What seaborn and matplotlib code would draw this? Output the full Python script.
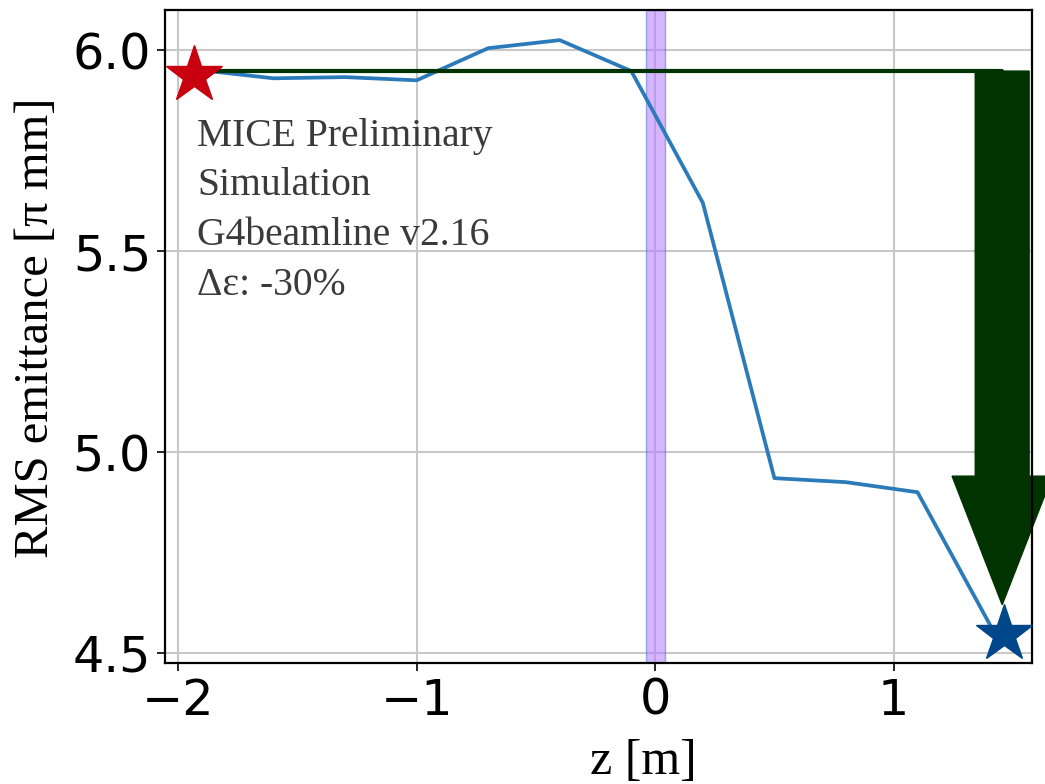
import matplotlib
matplotlib.use("Agg")
import matplotlib.pyplot as plt
import seaborn as sns
import pandas as pd

# Simulated RMS emittance along the beamline
z_m = [-1.9, -1.6, -1.3, -1.0, -0.7, -0.4, -0.1, 0.2, 0.5, 0.8, 1.1, 1.45]
emittance = [5.95, 5.93, 5.933, 5.925, 6.005, 6.025, 5.948, 5.62, 4.935, 4.925, 4.90, 4.52]

# Upstream / downstream reference points
start_z, start_eps = -1.935, 5.938
end_z, end_eps = 1.461, 4.546
ref_eps = 5.948           # upstream emittance level
arrow_z = 1.455
arrow_tip = 4.62
absorber = (-0.04, 0.04)  # absorber position band

annotation_lines = ["MICE Preliminary", "Simulation", "G4beamline v2.16", "Δε: -30%"]

sns.set_theme(style="whitegrid")
plt.rcParams.update({
    "font.family": ["DejaVu Sans"],
    "axes.edgecolor": "black",
    "axes.labelcolor": "black",
    "text.color": "black",
    "axes.linewidth": 1.6,
    "grid.color": "#c8c8c8",
    "grid.linewidth": 1.5,
    "xtick.bottom": True,
    "ytick.left": True,
    "xtick.major.size": 6,
    "ytick.major.size": 6,
    "xtick.major.width": 1.2,
    "ytick.major.width": 1.2,
    "xtick.color": "black",
    "ytick.color": "black",
})

fig = plt.figure(figsize=(10.45, 7.84), dpi=100)
ax = fig.add_axes([165 / 1045, (784 - 663) / 784, 867 / 1045, 653 / 784])

df = pd.DataFrame({"z": z_m, "eps": emittance})
sns.lineplot(data=df, x="z", y="eps", ax=ax, color="#2b7bba", linewidth=2.7, zorder=3)

ax.axvspan(*absorber, facecolor="#b57bff", alpha=0.55, edgecolor="#4a6fe0",
           linewidth=1.0, zorder=2)

ax.plot([start_z, arrow_z], [ref_eps, ref_eps], color="#003300", linewidth=3.0, zorder=4)

ax.arrow(arrow_z, ref_eps, 0, arrow_tip - ref_eps, width=0.226, head_width=0.42,
         head_length=0.32, length_includes_head=True, color="#003300",
         clip_on=False, zorder=1.5)

ax.plot([start_z], [start_eps], marker="*", markersize=43, color="#c8000f",
        linestyle="none", clip_on=False, zorder=6)
ax.plot([end_z], [end_eps], marker="*", markersize=43, color="#00468b",
        linestyle="none", clip_on=False, zorder=6)

ax.text(0.037, 0.835, "\n".join(annotation_lines), transform=ax.transAxes,
        ha="left", va="top", fontsize=28.5, family="Liberation Serif",
        color="#3a3a3a", linespacing=1.45, zorder=7)

ax.set_xlim(-2.055, 1.58)
ax.set_ylim(4.475, 6.1)
ax.set_xticks([-2, -1, 0, 1])
ax.set_yticks([4.5, 5.0, 5.5, 6.0])
ax.set_yticklabels(["4.5", "5.0", "5.5", "6.0"])
ax.tick_params(axis="both", labelsize=35.5, pad=4)

ax.set_xlabel("z [m]", fontsize=36, family="Liberation Serif")
ax.xaxis.label.set_va("baseline")
ax.xaxis.set_label_coords(0.552, -0.17)
ax.set_ylabel("RMS emittance [π mm]", fontsize=35, family="Liberation Serif")
ax.yaxis.set_label_coords(-0.123, 0.514)

for s in ax.spines.values():
    s.set_color("black")
    s.set_zorder(5)

fig.savefig("out.png", dpi=100)
